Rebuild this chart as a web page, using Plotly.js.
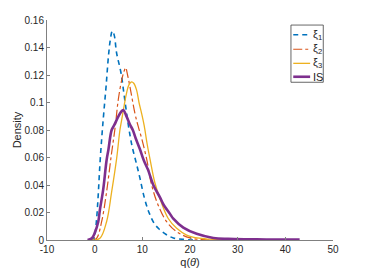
<!DOCTYPE html>
<html>
<head>
<meta charset="utf-8">
<script src="https://cdn.plot.ly/plotly-3.0.1.min.js"></script>
<style>html,body{margin:0;padding:0;background:#fff;}#chart{width:366px;height:274px;}</style>
</head>
<body>
<div id="chart"></div>
<script>
// xi_1
const xi1X = [-1.0, -0.3, 0.0, 0.4, 0.75, 1.1, 1.5, 1.9, 2.4, 2.9, 3.3, 3.7, 4.1, 4.6, 5.5, 6.2, 7.0, 7.8, 8.8, 9.5, 10.4, 11.4, 12.5, 13.5, 15.0, 16.5, 18.5, 21.0];
const xi1Y = [0, 0.0005, 0.003, 0.015, 0.033, 0.055, 0.075, 0.092, 0.112, 0.134, 0.146, 0.152, 0.149, 0.136, 0.122, 0.105, 0.085, 0.069, 0.055, 0.045, 0.031, 0.020, 0.012, 0.008, 0.004, 0.0015, 0.0005, 0];
// xi_2
const xi2X = [-0.5, 0.4, 1.46, 2.5, 3.5, 4.3, 4.95, 5.65, 6.1, 6.5, 6.9, 7.4, 8.45, 9.15, 9.85, 10.9, 11.95, 13.3, 15.1, 17.2, 20.0, 23.0, 26.0];
const xi2Y = [0, 0.0012, 0.0133, 0.035, 0.062, 0.082, 0.102, 0.116, 0.122, 0.1253, 0.12, 0.1115, 0.092, 0.0824, 0.074, 0.059, 0.040, 0.0255, 0.0133, 0.006, 0.0015, 0.0003, 0];
// xi_3
const xi3X = [-0.5, 1.1, 2.5, 3.56, 4.6, 5.3, 5.65, 6.2, 6.7, 7.2, 7.75, 8.2, 8.8, 9.3, 9.85, 10.4, 11.0, 11.6, 12.6, 13.7, 15.4, 17.2, 19.3, 21.5, 24.0, 27.0, 30.0];
const xi3Y = [0, 0.0012, 0.0133, 0.035, 0.059, 0.08, 0.087, 0.098, 0.107, 0.113, 0.115, 0.114, 0.109, 0.1, 0.092, 0.083, 0.07, 0.059, 0.042, 0.030, 0.0158, 0.0085, 0.0036, 0.0015, 0.0006, 0.0002, 0];
// IS
const isX = [-1.5, -0.6, 0.0, 0.75, 1.1, 1.8, 2.5, 2.9, 3.56, 4.1, 4.95, 5.5, 6.0, 6.7, 7.4, 8.0, 8.6, 9.5, 10.3, 11.2, 12.3, 13.7, 14.4, 15.8, 16.5, 18.6, 21.4, 24.9, 28.0, 32.0, 36.0, 40.0, 43.0];
const isY = [0, 0.0012, 0.005, 0.0133, 0.022, 0.037, 0.058, 0.066, 0.08, 0.0835, 0.0897, 0.093, 0.0945, 0.0897, 0.084, 0.08, 0.074, 0.066, 0.058, 0.051, 0.040, 0.031, 0.026, 0.019, 0.0155, 0.009, 0.0045, 0.0015, 0.0008, 0.0005, 0.0004, 0.0003, 0.0003];

const seriesNames = ['ξ<sub>1</sub>', 'ξ<sub>2</sub>', 'ξ<sub>3</sub>', 'IS'];
const xTicks = [-10, 0, 10, 20, 30, 40, 50];
const yTicks = [0, 0.02, 0.04, 0.06, 0.08, 0.1, 0.12, 0.14, 0.16];
const yTickText = ['0', '0.02', '0.04', '0.06', '0.08', '0.1', '0.12', '0.14', '0.16'];

const seriesStyles = [
  {color: '#0072BD', width: 1.6, dash: '5px,4px'},
  {color: '#D95319', width: 1.2, dash: 'dashdot'},
  {color: '#EDB120', width: 1.3, dash: 'solid'},
  {color: '#7E2F8E', width: 2.6, dash: 'solid'}
];
const seriesX = [xi1X, xi2X, xi3X, isX];
const seriesY = [xi1Y, xi2Y, xi3Y, isY];

const traces = seriesX.map((xs, i) => ({
  x: xs, y: seriesY[i], name: seriesNames[i], mode: 'lines', showlegend: false,
  line: Object.assign({shape: 'spline'}, seriesStyles[i])
}));

const FONT = 'Liberation Sans, Arial, Helvetica, sans-serif';
const axisCommon = {
  showline: true, linecolor: '#808080', linewidth: 1,
  ticks: 'inside', ticklen: 3, tickcolor: '#808080', tickwidth: 1,
  showgrid: false, zeroline: false, mirror: false,
  tickfont: {family: FONT, size: 10, color: '#262626'}
};

// custom MATLAB-like legend (paper coordinates)
const legBox = {x0: 0.853, x1: 0.966, y0: 0.717, y1: 0.977};
const legRowY = [0.933, 0.867, 0.803, 0.742];
const legLineX = [0.861, 0.920];
const legTextX = 0.928;

const shapes = [{
  type: 'rect', xref: 'paper', yref: 'paper', layer: 'below',
  x0: legBox.x0, x1: legBox.x1, y0: legBox.y0, y1: legBox.y1,
  fillcolor: '#ffffff', line: {color: '#404040', width: 0.8}
}];
const annotations = [];
legRowY.forEach((yy, i) => {
  shapes.push({
    type: 'line', xref: 'paper', yref: 'paper', layer: 'above',
    x0: legLineX[0], x1: legLineX[1], y0: yy, y1: yy,
    line: {color: seriesStyles[i].color, width: seriesStyles[i].width, dash: seriesStyles[i].dash}
  });
  annotations.push({
    xref: 'paper', yref: 'paper', x: legTextX, y: yy, xanchor: 'left', yanchor: 'middle',
    text: seriesNames[i], showarrow: false, borderpad: 0,
    font: {family: FONT, size: 11, color: '#262626'}
  });
});

const layout = {
  width: 366, height: 274,
  margin: {l: 47, r: 33, t: 20, b: 34},
  paper_bgcolor: '#fff', plot_bgcolor: '#fff',
  showlegend: false,
  shapes: shapes,
  annotations: annotations,
  xaxis: Object.assign({}, axisCommon, {
    range: [-10, 50], tickvals: xTicks, ticktext: xTicks.map(String),
    title: {text: 'q(<i>θ</i>)', font: {family: FONT, size: 11, color: '#262626'}, standoff: 4}
  }),
  yaxis: Object.assign({}, axisCommon, {
    range: [0, 0.16], tickvals: yTicks, ticktext: yTickText,
    title: {text: 'Density', font: {family: FONT, size: 11, color: '#262626'}, standoff: 0}
  })
};

Plotly.newPlot('chart', traces, layout, {displayModeBar: false, staticPlot: true});
</script>
</body>
</html>
